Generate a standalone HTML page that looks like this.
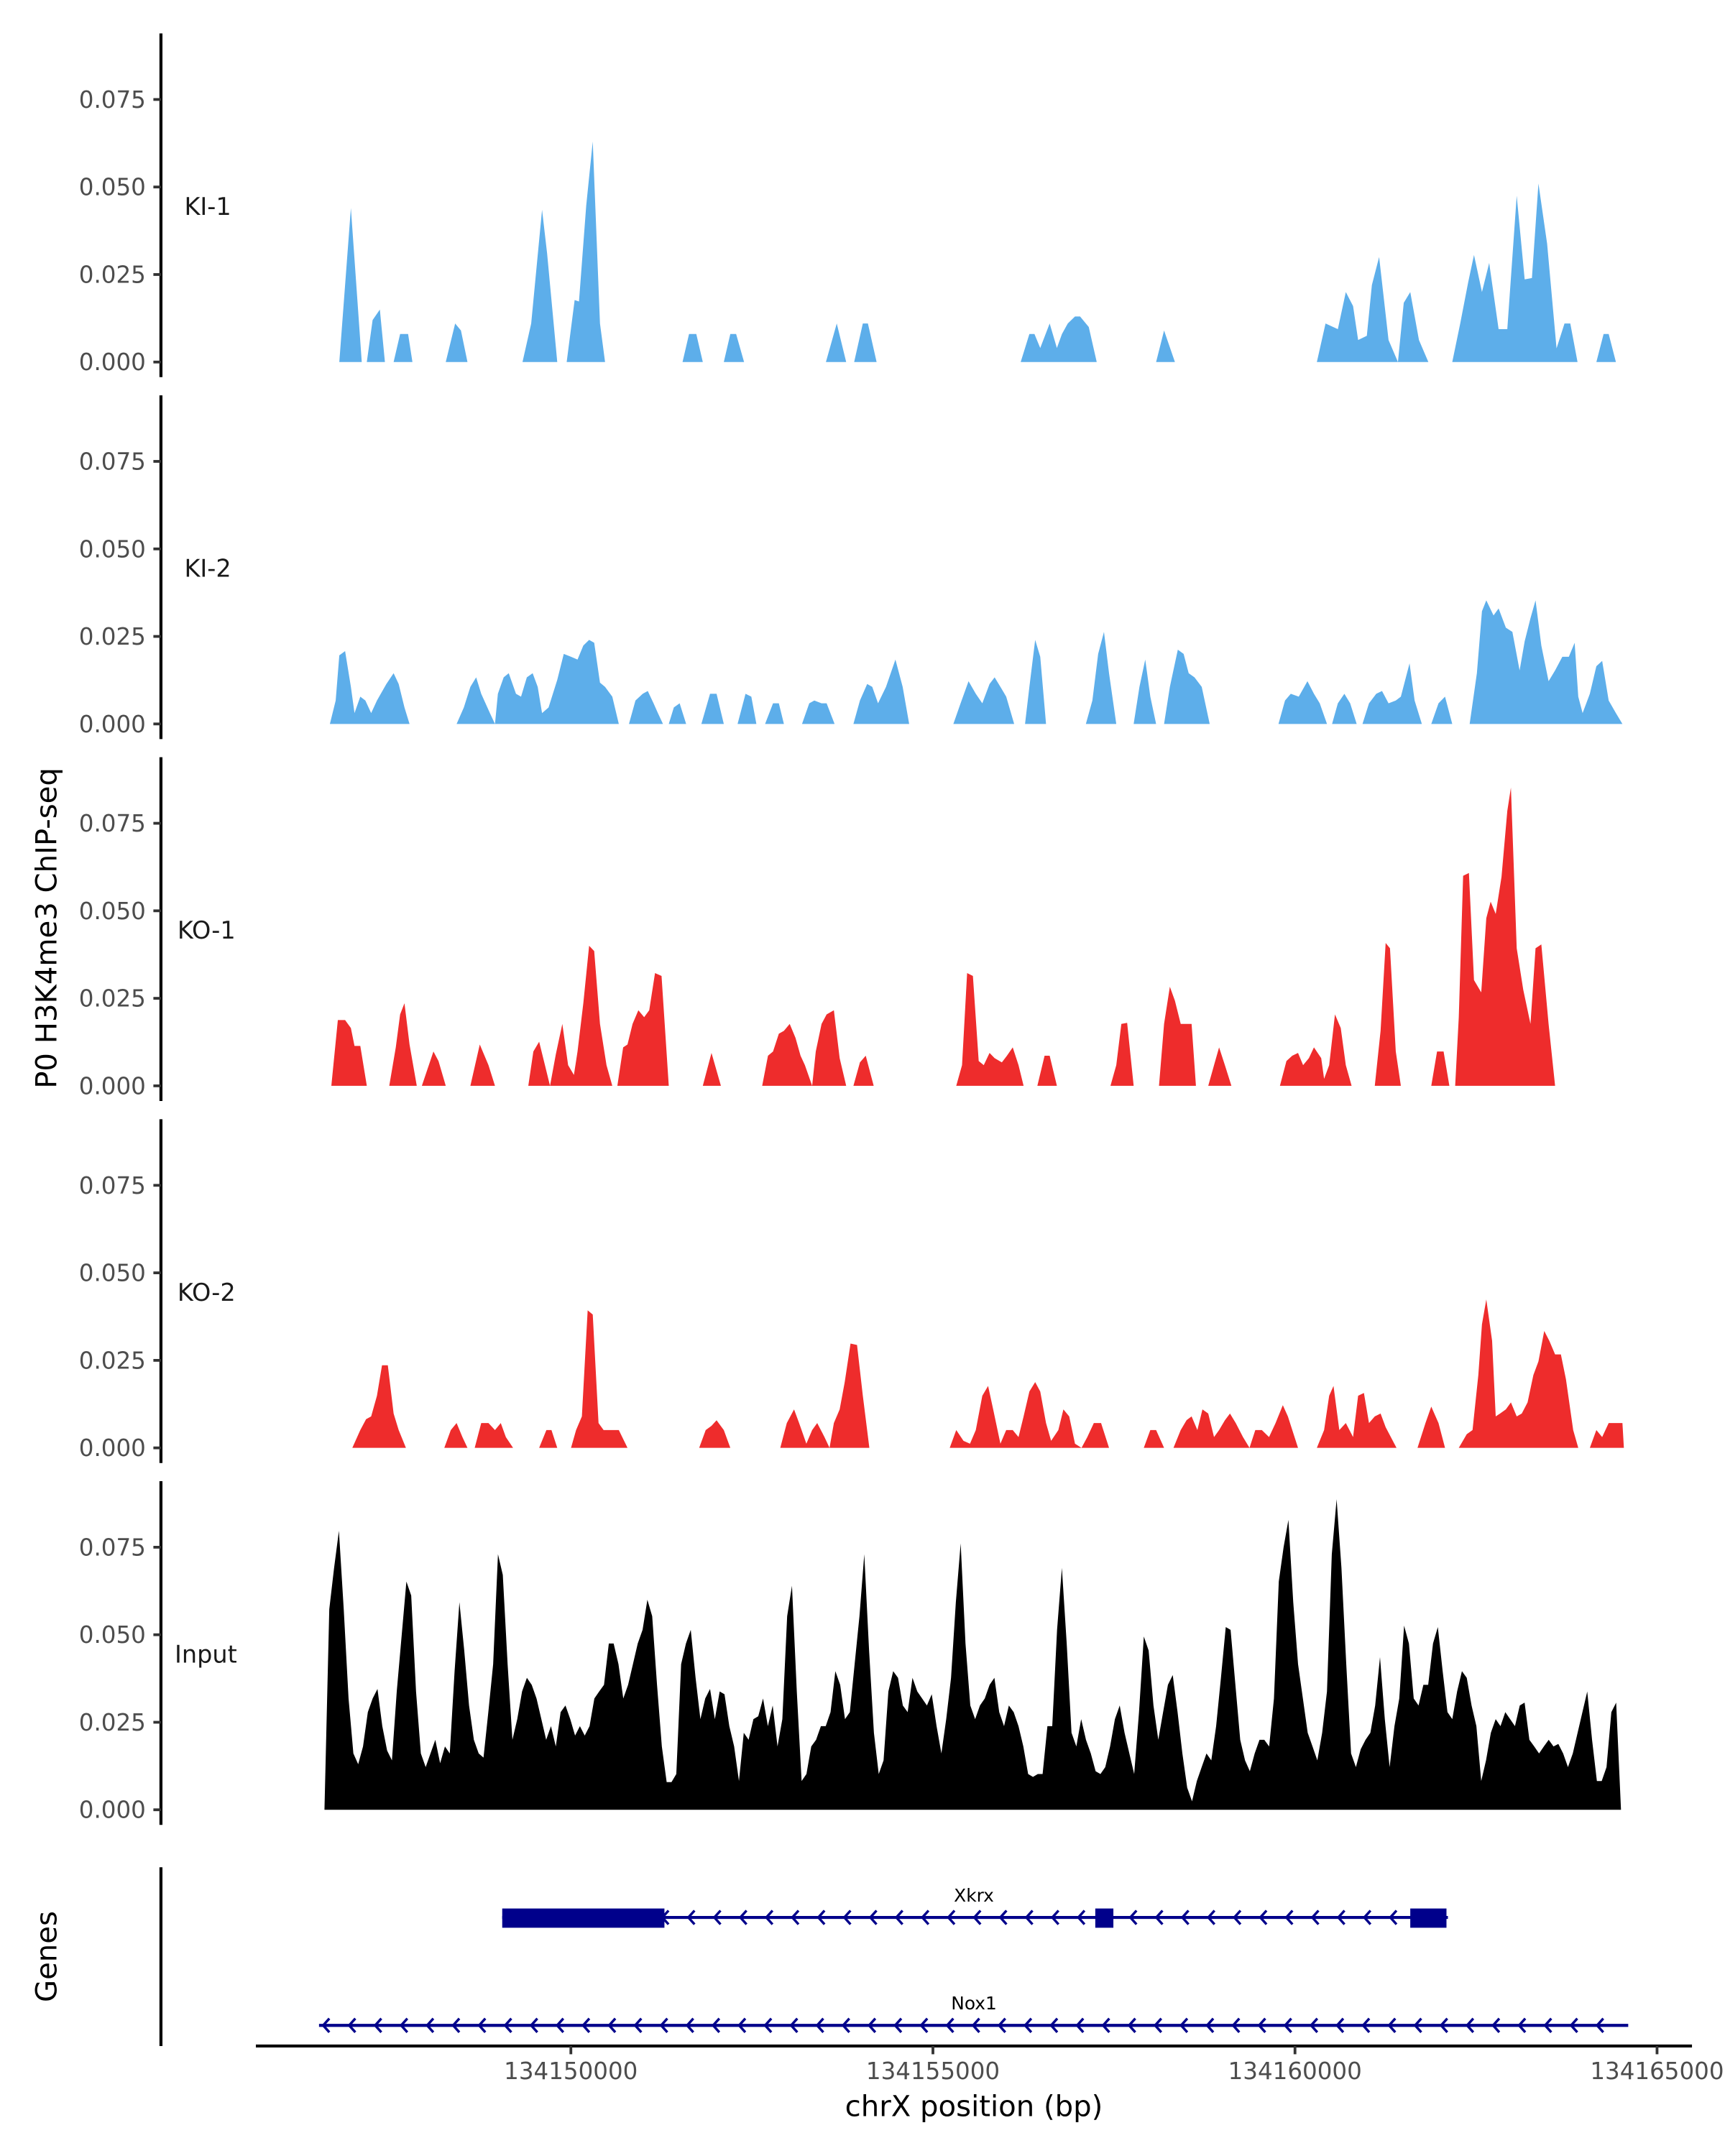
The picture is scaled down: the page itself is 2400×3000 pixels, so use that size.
<!DOCTYPE html>
<html><head><meta charset="utf-8"><style>
html,body{margin:0;padding:0;background:#fff;}
svg{display:block;}
text{font-family:"DejaVu Sans","Liberation Sans",sans-serif;}
</style></head><body>
<svg id="chart" xmlns="http://www.w3.org/2000/svg" width="2400" height="3000" viewBox="0 0 1254 1568" preserveAspectRatio="none">
<rect x="0" y="0" width="1254" height="1568" fill="#fff"/>
<g id="tracks"></g>
<g id="genes"></g>
<g id="axes"></g>
<text x="0" y="0" transform="translate(41,675) rotate(-90)" text-anchor="middle" font-size="21" fill="#000">P0 H3K4me3 ChIP-seq</text>
<text x="0" y="0" transform="translate(41,1423) rotate(-90)" text-anchor="middle" font-size="21" fill="#000">Genes</text>
<text x="708" y="1539" text-anchor="middle" font-size="21" fill="#000">chrX position (bp)</text>
</svg>
<script>
// ---------- data ----------
const posOrigin = 134140152; // bp of kb = 0 for position arrays
const trackNames = ["KI-1","KI-2","KO-1","KO-2","Input"];
const trackColors = ["#5daeea","#5daeea","#ee2c2c","#ee2c2c","#000000"];
const yTickValues = [0, 0.025, 0.05, 0.075];
const yTickLabels = ["0.000","0.025","0.050","0.075"];
const xTickValues = [134150000,134155000,134160000,134165000];
const xTickLabels = ["134150000","134155000","134160000","134165000"];

const ki1Pos = [6.65,6.81,6.96,7.03,7.11,7.21,7.28,7.40,7.49,7.60,7.66,8.12,8.25,8.33,8.42,9.18,9.30,9.45,9.52,9.66,9.79,9.90,9.96,10.06,10.15,10.25,10.32,11.39,11.48,11.58,11.67,11.96,12.05,12.13,12.24,13.37,13.52,13.65,13.76,13.88,13.95,14.07,16.06,16.18,16.25,16.33,16.46,16.56,16.63,16.71,16.81,16.88,17.00,17.11,17.93,18.04,18.19,20.15,20.27,20.44,20.55,20.65,20.72,20.84,20.91,21.01,21.14,21.27,21.35,21.44,21.56,21.69,22.02,22.13,22.24,22.32,22.43,22.53,22.66,22.78,22.91,23.02,23.12,23.21,23.33,23.46,23.57,23.65,23.75,24.01,24.11,24.18,24.28];
const ki1Val = [0,.044,0,0,.012,.015,0,0,.008,.008,0,0,.011,.009,0,0,.011,.0435,.031,0,0,.0177,.0173,.0447,.063,.011,0,0,.008,.008,0,0,.008,.008,0,0,.011,0,0,.011,.011,0,0,.008,.008,.004,.011,.004,.008,.011,.013,.013,.01,0,0,.009,0,0,.011,.0094,.02,.016,.0063,.0075,.022,.030,.0063,0,.0169,.02,.0063,0,0,.011,.0228,.0306,.02,.0283,.0094,.0094,.0475,.0236,.024,.051,.0338,.0039,.011,.011,0,0,.008,.008,0];

const ki2Pos = [6.52,6.60,6.65,6.73,6.81,6.86,6.94,7.01,7.09,7.17,7.30,7.40,7.47,7.55,7.62,8.27,8.37,8.46,8.54,8.61,8.73,8.80,8.84,8.92,8.99,9.09,9.16,9.24,9.32,9.39,9.45,9.54,9.66,9.75,9.85,9.94,10.02,10.10,10.17,10.25,10.32,10.42,10.51,10.65,10.74,10.84,10.91,10.99,11.05,11.12,11.20,11.27,11.35,11.44,11.65,11.77,11.86,11.96,12.15,12.26,12.34,12.41,12.53,12.64,12.72,12.79,13.04,13.14,13.21,13.31,13.38,13.49,13.75,13.84,13.94,14.01,14.09,14.20,14.33,14.43,14.52,15.13,15.23,15.34,15.44,15.53,15.63,15.70,15.78,15.86,15.97,16.12,16.18,16.26,16.33,16.41,16.96,17.05,17.13,17.21,17.28,17.38,17.62,17.70,17.78,17.85,17.93,18.04,18.12,18.23,18.31,18.38,18.46,18.56,18.67,19.62,19.71,19.79,19.90,20.02,20.11,20.19,20.29,20.36,20.44,20.53,20.61,20.70,20.78,20.87,20.97,21.05,21.14,21.24,21.31,21.43,21.50,21.60,21.73,21.83,21.92,22.02,22.26,22.36,22.43,22.49,22.59,22.66,22.76,22.85,22.95,23.02,23.10,23.17,23.25,23.35,23.44,23.54,23.63,23.71,23.76,23.82,23.92,24.01,24.09,24.18,24.28,24.37];
const ki2Val = [0,.0067,.0196,.0208,.0106,.0031,.0078,.0067,.0031,.0067,.0114,.0145,.0114,.0047,0,0,.0047,.0106,.0133,.0086,.0031,0,.0086,.0133,.0145,.0086,.0078,.0133,.0145,.0106,.0031,.0047,.0126,.02,.0192,.0184,.0224,.024,.0232,.0118,.0106,.0078,0,0,.0067,.0086,.0094,.0059,.0031,0,0,.0047,.0059,0,0,.0086,.0086,0,0,.0086,.0078,0,0,.0059,.0059,0,0,.0059,.0067,.0059,.0059,0,0,.0067,.0114,.0106,.0059,.0106,.0184,.0106,0,0,.0059,.0122,.0086,.0059,.0114,.0133,.0106,.0078,0,0,.0106,.024,.0192,0,0,.0067,.0200,.0263,.0145,0,0,.0106,.0184,.0078,0,0,.0106,.0212,.0200,.0145,.0133,.0106,0,0,.0067,.0086,.0078,.0122,.0086,.0059,0,0,.0059,.0086,.0059,0,0,.0059,.0086,.0094,.0059,.0067,.0078,.0173,.0067,0,0,.0059,.0078,0,0,.0145,.0322,.0353,.031,.033,.0275,.0263,.0153,.0236,.0302,.0353,.0224,.0122,.0153,.0192,.0192,.0232,.0078,.0031,.0086,.0165,.018,.0067,.0031,0];

const ko1Pos = [6.54,6.63,6.73,6.81,6.86,6.94,7.03,7.34,7.43,7.49,7.55,7.62,7.72,7.79,7.95,8.02,8.12,8.46,8.59,8.71,8.80,9.26,9.33,9.41,9.49,9.56,9.64,9.73,9.81,9.89,9.94,10.02,10.10,10.17,10.25,10.34,10.42,10.49,10.57,10.63,10.70,10.78,10.86,10.93,11.01,11.10,11.20,11.67,11.79,11.92,12.49,12.57,12.64,12.72,12.79,12.87,12.95,13.02,13.08,13.18,13.23,13.31,13.38,13.48,13.56,13.65,13.75,13.84,13.92,14.03,15.17,15.25,15.32,15.40,15.48,15.55,15.63,15.70,15.80,15.87,15.95,16.03,16.10,16.29,16.39,16.46,16.56,17.30,17.38,17.45,17.53,17.62,17.97,18.04,18.12,18.19,18.27,18.36,18.42,18.48,18.65,18.73,18.80,18.88,18.97,19.64,19.73,19.81,19.89,19.96,20.04,20.11,20.21,20.25,20.32,20.40,20.48,20.55,20.63,20.95,21.03,21.10,21.16,21.24,21.31,21.73,21.81,21.90,21.98,22.06,22.11,22.17,22.25,22.32,22.42,22.49,22.55,22.62,22.70,22.78,22.83,22.91,23.00,23.10,23.17,23.25,23.35,23.44];
const ko1Val = [0,.0188,.0188,.0165,.0114,.0114,0,0,.011,.0204,.0236,.0118,0,0,.0098,.0071,0,0,.0118,.0059,0,0,.0098,.0126,.0059,0,.009,.0177,.0059,.0031,.0098,.0236,.04,.0385,.0177,.0059,0,0,.011,.0118,.0177,.0216,.0196,.0216,.0322,.0314,0,0,.0094,0,0,.0086,.0098,.0149,.0157,.0177,.0137,.0086,.0059,0,.0098,.0177,.0204,.0216,.0079,0,0,.0067,.0086,0,0,.0059,.0322,.0314,.0071,.0059,.0094,.0079,.0067,.0086,.011,.0059,0,0,.0086,.0086,0,0,.0059,.0177,.018,0,0,.0177,.0283,.0243,.0177,.0177,.0177,0,0,.0059,.011,.0059,0,0,.0071,.0086,.0094,.0059,.0079,.011,.0079,.002,.0059,.0204,.0165,.0059,0,0,.0157,.0408,.0393,.0098,0,0,.0098,.0098,0,0,.0196,.06,.0608,.0302,.0267,.0479,.0526,.0491,.0597,.0785,.0852,.0393,.0275,.0177,.0393,.0404,.0177,0];

const ko2Pos = [6.83,6.94,7.02,7.09,7.17,7.24,7.32,7.40,7.47,7.57,8.10,8.19,8.27,8.35,8.42,8.52,8.61,8.71,8.80,8.88,8.95,9.05,9.41,9.51,9.58,9.66,9.85,9.92,10.00,10.08,10.15,10.23,10.30,10.38,10.51,10.63,11.62,11.71,11.79,11.86,11.96,12.05,12.74,12.83,12.93,13.00,13.10,13.18,13.25,13.35,13.42,13.48,13.56,13.63,13.71,13.80,13.88,13.97,15.08,15.17,15.27,15.36,15.44,15.53,15.61,15.68,15.78,15.86,15.95,16.03,16.10,16.18,16.26,16.33,16.41,16.48,16.58,16.65,16.73,16.81,16.90,16.98,17.07,17.17,17.28,17.76,17.85,17.93,18.04,18.17,18.27,18.35,18.42,18.50,18.57,18.65,18.73,18.80,18.88,18.95,19.03,19.13,19.22,19.30,19.39,19.49,19.58,19.68,19.75,19.89,20.15,20.25,20.32,20.38,20.46,20.55,20.65,20.72,20.80,20.87,20.95,21.03,21.10,21.25,21.54,21.65,21.73,21.83,21.92,22.11,22.22,22.30,22.38,22.43,22.49,22.57,22.62,22.68,22.76,22.83,22.91,22.98,23.06,23.14,23.21,23.29,23.36,23.44,23.52,23.59,23.69,23.76,23.92,24.01,24.09,24.18,24.28,24.37,24.39];
const ko2Val = [0,.0051,.0082,.009,.0149,.0236,.0236,.0098,.0051,0,0,.0051,.0071,.0031,0,0,.0071,.0071,.0051,.0071,.0031,0,0,.0051,.0051,0,0,.0051,.009,.0393,.0381,.0071,.0051,.0051,.0051,0,0,.0051,.0063,.0079,.0051,0,0,.0071,.011,.0071,.0012,.0051,.0071,.0031,0,.0071,.011,.0188,.0298,.0294,.0149,0,0,.0051,.002,.0012,.0051,.0149,.0177,.011,.0012,.0051,.0051,.0031,.009,.0161,.0188,.0161,.0071,.002,.0051,.011,.009,.0012,0,.0031,.0071,.0071,0,0,.0051,.0051,0,0,.0051,.0079,.009,.0051,.011,.0098,.0031,.0051,.0079,.0098,.0071,.0031,0,.0051,.0051,.0031,.0071,.0122,.009,0,0,.0051,.0149,.0177,.0051,.0071,.0031,.0149,.0157,.0071,.009,.0098,.0059,0,0,.0071,.0118,.0071,0,0,.0039,.0051,.0208,.0353,.0424,.0306,.009,.0098,.011,.013,.009,.0098,.013,.0208,.0247,.0334,.0306,.0267,.0267,.0196,.0051,0,0,.0051,.0031,.0071,.0071,.0071,0];

const inputStartKb = 6.445;
const inputEndKb = 24.35;
const inputVal = [0,.0573,.0691,.0797,.0573,.0318,.0161,.013,.0181,.0279,.0318,.0345,.0239,.0169,.0141,.0338,.0495,.0652,.0612,.0338,.0161,.0122,.0161,.02,.0133,.0181,.0161,.0396,.0593,.0455,.0298,.02,.0161,.0149,.0279,.0416,.073,.0671,.0416,.02,.0259,.0338,.0377,.0357,.0318,.0259,.02,.0239,.0181,.0279,.0298,.0259,.0212,.0239,.0212,.0239,.0318,.0338,.0357,.0475,.0475,.0416,.0318,.0357,.0416,.0475,.0514,.06,.0553,.0357,.0181,.0079,.0079,.0102,.0416,.0475,.0514,.0377,.0259,.0318,.0345,.0259,.0338,.033,.0239,.0181,.0082,.022,.02,.0259,.0267,.0318,.0239,.0298,.0181,.0259,.0553,.064,.0338,.0082,.0102,.0181,.02,.0239,.0239,.0279,.0396,.0357,.0259,.0279,.0416,.0553,.073,.0455,.022,.0102,.0141,.0338,.0396,.0377,.0298,.0279,.0377,.0338,.0318,.0298,.033,.0239,.0161,.0259,.0377,.0593,.0761,.0475,.0298,.0259,.0298,.0318,.0357,.0377,.0279,.0239,.0298,.0279,.0239,.0181,.0102,.0094,.0102,.0102,.0239,.0239,.0514,.0691,.0475,.022,.0181,.0259,.02,.0161,.011,.0102,.0122,.0181,.0259,.0298,.022,.0161,.0102,.0279,.0495,.0455,.0298,.02,.0279,.0357,.0385,.0279,.0161,.0063,.0024,.0082,.0122,.0161,.0141,.0239,.0377,.0522,.0514,.0357,.02,.0141,.011,.0161,.02,.02,.0181,.0318,.0652,.075,.0828,.0593,.0416,.0318,.022,.0181,.0141,.022,.0338,.073,.0887,.0691,.0416,.0161,.0122,.0173,.02,.022,.0298,.0436,.0259,.0122,.0239,.0318,.0526,.0475,.0318,.0298,.0357,.0357,.0475,.0522,.0396,.0279,.0259,.0338,.0396,.0377,.0298,.0239,.0082,.0141,.022,.0259,.0239,.0279,.0259,.0239,.0298,.0306,.02,.0181,.0161,.0181,.02,.0181,.0188,.0161,.0122,.0161,.022,.0279,.0338,.02,.0082,.0082,.0122,.0279,.0306,0];

const geneNames = ["Xkrx","Nox1"];
const geneStartKb = [8.90, 6.37];
const geneEndKb = [21.96, 24.45];
const xkrxExonStartKb = [8.90, 17.09, 21.44];
const xkrxExonEndKb = [11.14, 17.34, 21.94];

// ---------- scales ----------
const NS = "http://www.w3.org/2000/svg";
const zeros = [263.3, 526.5, 789.7, 1053, 1316.2];
function xs(bp){ return 415 + (bp - 134150000) / 5000 * 263.2; }
function xk(kb){ return xs(posOrigin + kb * 1000); }
function ys(i, v){ return zeros[i] - v * 2546; }
function mk(tag, attrs, parent){
  const e = document.createElementNS(NS, tag);
  for (const k in attrs) e.setAttribute(k, attrs[k]);
  parent.appendChild(e);
  return e;
}
const tracks = document.getElementById('tracks');
const axes = document.getElementById('axes');
const genes = document.getElementById('genes');

function areaPath(i, pos, val){
  let d = "M" + xk(pos[0]).toFixed(2) + "," + zeros[i];
  for (let j = 0; j < pos.length; j++) d += "L" + xk(pos[j]).toFixed(2) + "," + ys(i, val[j]).toFixed(2);
  d += "L" + xk(pos[pos.length-1]).toFixed(2) + "," + zeros[i] + "Z";
  return d;
}
const inputPos = inputVal.map((v, j) => inputStartKb + (inputEndKb - inputStartKb) * j / (inputVal.length - 1));
const trackPos = [ki1Pos, ki2Pos, ko1Pos, ko2Pos, inputPos];
const trackVal = [ki1Val, ki2Val, ko1Val, ko2Val, inputVal];

for (let i = 0; i < 5; i++) {
  const p = mk('path', {d: areaPath(i, trackPos[i], trackVal[i]), fill: trackColors[i]}, tracks);
  
  
  const ax = mk('line', {x1:117, x2:117, y1: zeros[i]-239, y2: zeros[i]+11, stroke:'#000', 'stroke-width':2.2}, axes);
  
  
  for (let t = 0; t < yTickValues.length; t++) {
    const y = ys(i, yTickValues[t]);
    const tk = mk('line', {x1:111.5, x2:117, y1:y, y2:y, stroke:'#333', 'stroke-width':2}, axes);
    
    
    const tl = mk('text', {x:106, y:y+6, 'text-anchor':'end', 'font-size':17, fill:'#4d4d4d'}, axes);
    tl.textContent = yTickLabels[t];
    
    
  }
  const lb = mk('text', {x: i === 4 ? 127 : (i >= 2 ? 129 : 134), y: zeros[i]-107, 'font-size':17.5, fill:'#1a1a1a'}, axes);
  lb.textContent = trackNames[i];
  
  
}

// genes panel axis
const gax = mk('line', {x1:117, x2:117, y1:1358, y2:1488, stroke:'#000', 'stroke-width':2.2}, axes);


// x axis
const xax = mk('line', {x1:186, x2:1230, y1:1488, y2:1488, stroke:'#000', 'stroke-width':2.2}, axes);


for (let t = 0; t < xTickValues.length; t++) {
  const x = xs(xTickValues[t]);
  const tk = mk('line', {x1:x, x2:x, y1:1488, y2:1494, stroke:'#333', 'stroke-width':2}, axes);
  
  
  const tl = mk('text', {x:x, y:1512, 'text-anchor':'middle', 'font-size':17, fill:'#4d4d4d'}, axes);
  tl.textContent = xTickLabels[t];
  
  
}

// genes
const geneY = [1394.5, 1473];
const navy = '#00008b';
for (let g = 0; g < 2; g++) {
  const x1 = xk(geneStartKb[g]), x2 = xk(geneEndKb[g]), y = geneY[g];
  const ln = mk('line', {x1:x1, x2:x2, y1:y, y2:y, stroke:navy, 'stroke-width':2.2}, genes);
  
  
  let d = "";
  for (let x = x1 + 3; x < x2 - 6; x += 18.9) {
    d += "M" + (x+4.5).toFixed(2) + "," + (y-5) + "L" + x.toFixed(2) + "," + y + "L" + (x+4.5).toFixed(2) + "," + (y+5);
  }
  const ar = mk('path', {d:d, fill:'none', stroke:navy, 'stroke-width':1.8}, genes);
  
  
  const lb = mk('text', {x:708, y: y-11.5, 'text-anchor':'middle', 'font-size':13, fill:'#000'}, genes);
  lb.textContent = geneNames[g];
  
  
}
for (let e = 0; e < xkrxExonStartKb.length; e++) {
  const a = xk(xkrxExonStartKb[e]), b = xk(xkrxExonEndKb[e]);
  const r = mk('rect', {x:a, y:1388, width:b-a, height:14, fill:navy}, genes);
  
  
}
</script>
</body></html>
